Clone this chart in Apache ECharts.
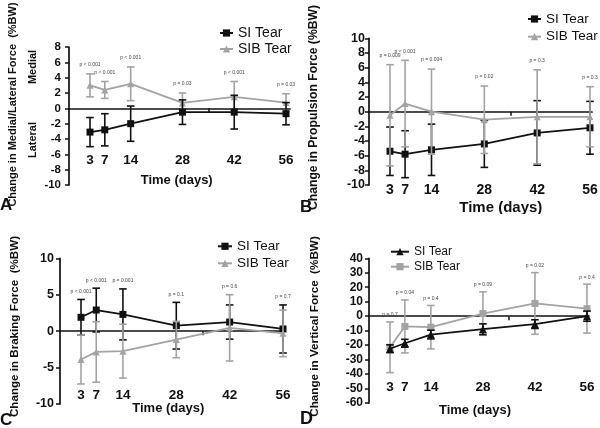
<!DOCTYPE html>
<html><head><meta charset="utf-8">
<script src="https://cdn.jsdelivr.net/npm/echarts@6/dist/echarts.min.js"></script>
<style>
html,body{margin:0;padding:0;background:#fff;}
#wrap{position:relative;width:600px;height:428px;overflow:hidden;background:#fff;}
.p{position:absolute;width:300px;height:214px;}
</style></head><body>
<div id="wrap">
<div class="p" id="pA" style="left:0;top:0"></div>
<div class="p" id="pB" style="left:300px;top:0"></div>
<div class="p" id="pC" style="left:0;top:214px"></div>
<div class="p" id="pD" style="left:300px;top:214px"></div>
</div>
<script>
// ---- data ----
const days = [3, 7, 14, 28, 42, 56];
const zeroLineTicks = [35];
const seriesNames = ['SI Tear', 'SIB Tear'];

// A: medial/lateral force
const aSiMean  = [-3.1, -2.8, -2.0, -0.5, -0.5, -0.7];
const aSiSD    = [1.9, 2.1, 2.3, 1.6, 2.2, 1.45];
const aSibMean = [3.0, 2.4, 3.2, 0.7, 1.5, 0.75];
const aSibSD   = [1.5, 1.1, 2.2, 1.3, 2.0, 1.15];
const aP = ['p < 0.001', 'p < 0.001', 'p < 0.001', 'p = 0.03', 'p < 0.001', 'p = 0.03'];

// B: propulsion force
const bSiMean  = [-5.4, -5.8, -5.2, -4.4, -2.9, -2.2];
const bSiSD    = [3.3, 3.2, 3.5, 3.2, 4.4, 3.6];
const bSibMean = [-0.5, 1.1, 0.0, -1.1, -0.7, -0.7];
const bSibSD   = [6.9, 5.9, 5.8, 4.6, 6.4, 4.1];
const bP = ['p = 0.009', 'p < 0.001', 'p = 0.004', 'p = 0.02', 'p = 0.3', 'p = 0.3'];

// C: braking force
const cSiMean  = [1.9, 2.9, 2.3, 0.75, 1.25, 0.3];
const cSiSD    = [2.45, 3.0, 3.5, 3.2, 2.35, 3.3];
const cSibMean = [-3.9, -2.85, -2.75, -1.15, 0.45, -0.3];
const cSibSD   = [3.35, 4.15, 3.7, 2.5, 4.55, 3.2];
const cP = ['p < 0.001', 'p < 0.001', 'p = 0.001', 'p = 0.1', 'p = 0.6', 'p = 0.7'];

// D: vertical force
const dSiMean  = [-22.5, -18.7, -12.7, -9.0, -5.5, 0.0];
const dSiSD    = [2.7, 2.7, 3.0, 3.7, 3.0, 3.5];
const dSibMean = [-21.5, -7.1, -7.6, 1.8, 8.8, 5.2];
const dSibSD   = [17.5, 18.3, 15.0, 15.0, 21.3, 16.9];
const dP = ['p = 0.7', 'p = 0.04', 'p = 0.4', 'p = 0.09', 'p = 0.02', 'p = 0.4'];

// ---- drawing ----
const FONT = "'Liberation Sans', Arial, Helvetica, sans-serif";
const BLACK = '#111111';
const GREY = '#a3a3a3';

function errSeries(name, means, sds, color, halfW, z) {
  return {
    type: 'custom', name: name, z: z, silent: true, clip: false,
    data: days.map((d, i) => [d, means[i], sds[i]]),
    encode: { x: 0, y: 1 },
    renderItem: function (params, api) {
      const x = api.value(0), m = api.value(1), s = api.value(2);
      const t = api.coord([x, m + s]), b = api.coord([x, m - s]);
      const st = { stroke: color, lineWidth: 1.6 };
      return { type: 'group', children: [
        { type: 'line', shape: { x1: t[0], y1: t[1], x2: b[0], y2: b[1] }, style: st },
        { type: 'line', shape: { x1: t[0] - halfW, y1: t[1], x2: t[0] + halfW, y2: t[1] }, style: st },
        { type: 'line', shape: { x1: b[0] - halfW, y1: b[1], x2: b[0] + halfW, y2: b[1] }, style: st }
      ]};
    }
  };
}

function pSeries(texts, siM, siS, sbM, sbS, off) {
  return {
    type: 'custom', name: 'p', z: 6, silent: true, clip: false,
    data: days.map((d, i) => [d, Math.max(siM[i] + siS[i], sbM[i] + sbS[i])]),
    encode: { x: 0, y: 1 },
    renderItem: function (params, api) {
      const pt = api.coord([api.value(0), api.value(1)]);
      return { type: 'text', x: pt[0], y: pt[1] - off,
        style: { text: texts[params.dataIndex], fontSize: 5, fontFamily: FONT,
                 fill: '#444', align: 'center', verticalAlign: 'middle' } };
    }
  };
}

function lineSeries(name, means, color, symbol, size, z) {
  return {
    type: 'line', name: name, z: z,
    data: days.map((d, i) => [d, means[i]]),
    symbol: symbol, symbolSize: size, showSymbol: true,
    itemStyle: { color: color, borderWidth: 0 },
    lineStyle: { color: color, width: 1.8 },
    emphasis: { disabled: true }
  };
}

function txt(text, x, y, fs, rot, align) {
  return {
    type: 'text', x: x, y: y, rotation: rot || 0, silent: true,
    style: { text: text, fontSize: fs, fontWeight: 'bold', fontFamily: FONT,
             fill: BLACK, align: align || 'center', verticalAlign: 'middle' }
  };
}

function buildPanel(cfg) {
  const chart = echarts.init(document.getElementById(cfg.el), null, { renderer: 'canvas' });
  const siZ = cfg.greyOnTop ? 2 : 4;
  const sbZ = cfg.greyOnTop ? 4 : 2;
  const graphics = [
    txt(cfg.title.text, cfg.title.x, cfg.title.y, cfg.title.fs, Math.PI / 2),
    txt(cfg.letter.text, cfg.letter.x, cfg.letter.y, cfg.letter.fs, 0, 'left'),
    txt('Time (days)', cfg.time.x, cfg.time.y, cfg.time.fs, 0)
  ].concat((cfg.extra || []).map(e => txt(e.text, e.x, e.y, e.fs, Math.PI / 2)));

  const grid = Object.assign({ outerBoundsMode: 'none', containLabel: false }, cfg.grid);
  chart.setOption({
    animation: false,
    backgroundColor: '#fff',
    grid: grid,
    legend: {
      orient: 'vertical', left: cfg.legend.left, top: cfg.legend.top,
      itemWidth: cfg.legend.itemWidth, itemHeight: 9, itemGap: cfg.legend.gap,
      selectedMode: false, data: seriesNames,
      textStyle: { fontSize: cfg.legend.fs, color: BLACK, fontFamily: FONT, lineHeight: cfg.legend.lh }
    },
    xAxis: [{
      // labels only, along the bottom of the plot
      type: 'value', min: cfg.xMin, max: cfg.xMax, position: 'bottom',
      axisLine: { show: false, onZero: false },
      axisTick: { show: false },
      axisLabel: { customValues: days, fontSize: cfg.xFs, fontWeight: 'bold', color: BLACK,
                   fontFamily: FONT, margin: cfg.xMargin, verticalAlign: 'middle' },
      splitLine: { show: false }
    }, {
      // zero line
      type: 'value', min: cfg.xMin, max: cfg.xMax, position: 'bottom',
      axisLine: { show: true, onZero: true, lineStyle: { color: BLACK, width: 1.7 } },
      axisTick: { show: true, customValues: zeroLineTicks, length: 4, lineStyle: { color: BLACK, width: 1.5 } },
      axisLabel: { show: false },
      splitLine: { show: false }
    }],
    yAxis: {
      type: 'value', min: cfg.yMin, max: cfg.yMax, interval: cfg.yInt,
      axisLine: { show: true, onZero: false, lineStyle: { color: BLACK, width: 1.7 } },
      axisTick: { show: true, length: 4, lineStyle: { color: BLACK, width: 1.5 } },
      axisLabel: { fontSize: cfg.yFs, fontWeight: 'bold', color: BLACK, fontFamily: FONT, margin: cfg.yMargin },
      splitLine: { show: false }
    },
    graphic: graphics,
    series: [
      lineSeries('SI Tear', cfg.siM, BLACK, cfg.siSym, cfg.siSize, siZ + 1),
      lineSeries('SIB Tear', cfg.sbM, GREY, cfg.sbSym, cfg.sbSize, sbZ + 1),
      errSeries('SI err', cfg.siM, cfg.siS, BLACK, 3.8, siZ),
      errSeries('SIB err', cfg.sbM, cfg.sbS, GREY, 3.8, sbZ),
      pSeries(cfg.p, cfg.siM, cfg.siS, cfg.sbM, cfg.sbS, cfg.pOff)
    ]
  });
}

buildPanel({
  el: 'pA', grid: { left: 69, top: 47, width: 221, height: 138 },
  xMin: -2.68, xMax: 57.08, yMin: -10, yMax: 8, yInt: 2, yFs: 11.5, yMargin: 8,
  xFs: 13.5, xMargin: -25,
  siM: aSiMean, siS: aSiSD, sbM: aSibMean, sbS: aSibSD, p: aP, pOff: 9,
  siSym: 'rect', siSize: 7, sbSym: 'triangle', sbSize: 7, greyOnTop: false,
  legend: { left: 214, top: 21, itemWidth: 13, gap: 2, fs: 14, lh: 14 },
  title: { text: 'Change in Medial/Lateral Force  (%BW)', x: 13, y: 104.5, fs: 11 },
  letter: { text: 'A', x: 0, y: 205, fs: 17 },
  time: { x: 176.7, y: 180, fs: 13 },
  extra: [ { text: 'Medial', x: 33, y: 67, fs: 11 }, { text: 'Lateral', x: 33, y: 140, fs: 11 } ]
});

buildPanel({
  el: 'pB', grid: { left: 69, top: 38.3, width: 223, height: 146.7 },
  xMin: -2.56, xMax: 56.53, yMin: -10, yMax: 10, yInt: 2, yFs: 12.5, yMargin: 4,
  xFs: 14, xMargin: 5,
  siM: bSiMean, siS: bSiSD, sbM: bSibMean, sbS: bSibSD, p: bP, pOff: 9,
  siSym: 'rect', siSize: 7, sbSym: 'triangle', sbSize: 7, greyOnTop: true,
  legend: { left: 222, top: 7, itemWidth: 13, gap: 3.7, fs: 13.5, lh: 14 },
  title: { text: 'Change in Propulsion Force (%BW)', x: 13.5, y: 107.5, fs: 12.2 },
  letter: { text: 'B', x: 0, y: 207, fs: 17 },
  time: { x: 200.8, y: 208.3, fs: 15 }
});

buildPanel({
  el: 'pC', grid: { left: 60, top: 44.3, width: 225, height: 145.7 },
  xMin: -2.51, xMax: 56.52, yMin: -10, yMax: 10, yInt: 5, yFs: 12.5, yMargin: 6,
  xFs: 13.5, xMargin: -8.3,
  siM: cSiMean, siS: cSiSD, sbM: cSibMean, sbS: cSibSD, p: cP, pOff: 8,
  siSym: 'rect', siSize: 7, sbSym: 'triangle', sbSize: 7, greyOnTop: true,
  legend: { left: 212, top: 20.3, itemWidth: 14, gap: 3, fs: 13.5, lh: 14 },
  title: { text: 'Change in Braking Force  (%BW)', x: 14.5, y: 112.5, fs: 11.6 },
  letter: { text: 'C', x: 0, y: 206, fs: 17 },
  time: { x: 168.3, y: 194.3, fs: 13 }
});

buildPanel({
  el: 'pD', grid: { left: 69, top: 44.3, width: 220, height: 144.7 },
  xMin: -2.65, xMax: 56.54, yMin: -60, yMax: 40, yInt: 10, yFs: 12, yMargin: 6,
  xFs: 13.5, xMargin: -15.7,
  siM: dSiMean, siS: dSiSD, sbM: dSibMean, sbS: dSibSD, p: dP, pOff: 7,
  siSym: 'triangle', siSize: 8, sbSym: 'rect', sbSize: 7, greyOnTop: false,
  legend: { left: 85, top: 26.7, itemWidth: 18, gap: 3, fs: 12, lh: 12 },
  title: { text: 'Change in Vertical Force  (%BW)', x: 15, y: 112.5, fs: 11.7 },
  letter: { text: 'D', x: 0, y: 205, fs: 18 },
  time: { x: 175, y: 196.7, fs: 13 }
});
</script>
</body></html>
